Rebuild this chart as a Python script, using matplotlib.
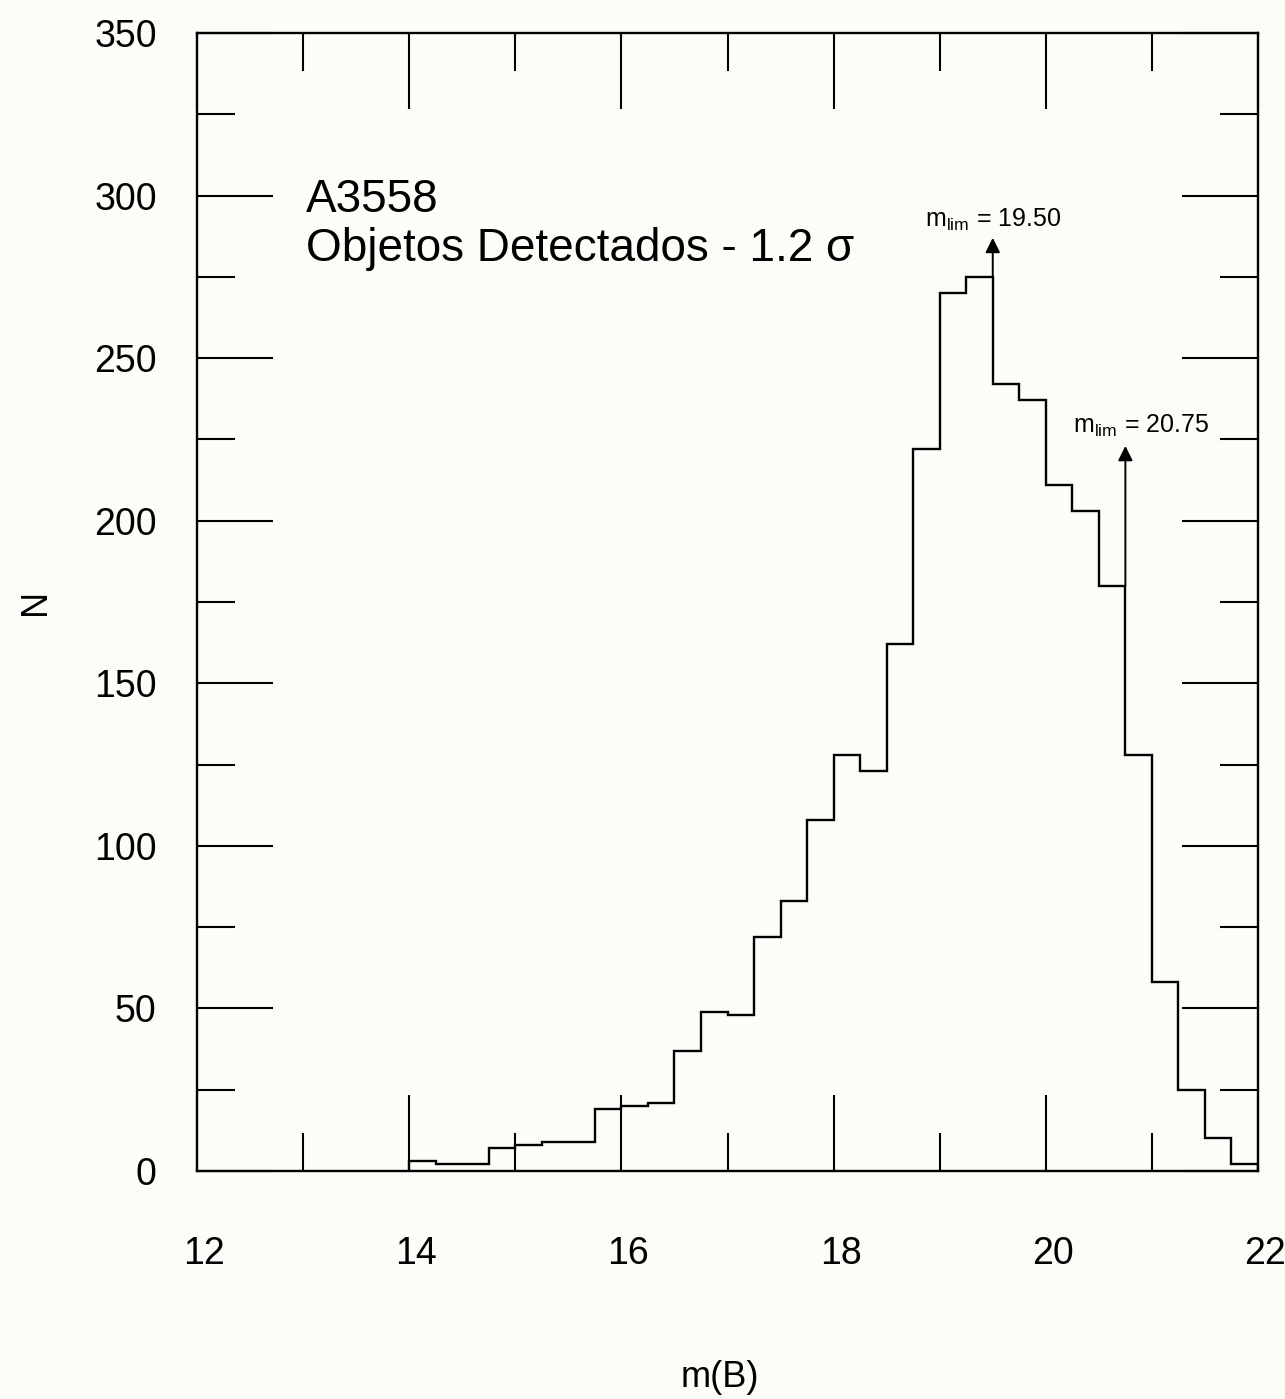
import numpy as np
import matplotlib
matplotlib.use('Agg')
import matplotlib.pyplot as plt
from matplotlib.ticker import MultipleLocator
from matplotlib.transforms import ScaledTranslation

# magnitude histogram, bins of 0.25 mag starting at 14.0
bin_start = 14.0
bin_width = 0.25
counts = [3, 2, 2, 7, 8, 9, 9, 19, 20, 21,
          37, 49, 48, 72, 83, 108, 128, 123, 162, 222,
          270, 275, 242, 237, 211, 203, 180, 128, 58, 25,
          10, 2]

# limiting magnitudes marked with arrows
m_lim = [19.50, 20.75]
arrow_base = [275, 180]
arrow_tip = [287, 223]

cluster = "A3558"
subtitle = "Objetos Detectados - 1.2 σ"

plt.rcParams['font.family'] = ['Liberation Sans', 'DejaVu Sans']
plt.rcParams['mathtext.fontset'] = 'custom'
plt.rcParams['mathtext.rm'] = 'Liberation Sans'
plt.rcParams['mathtext.it'] = 'Liberation Sans'


def plot_hist():
    fig = plt.figure(figsize=(12.85, 13.99), dpi=100, facecolor='#fcfcf9')
    ax = fig.add_axes([0.1533, 0.163, 0.8257, 0.8134])
    ax.set_facecolor('#fcfcf9')

    edges = bin_start + bin_width * np.arange(len(counts) + 1)
    ax.stairs(counts, edges, baseline=0, color='black', lw=1.7)

    ax.set_xlim(12, 22)
    ax.set_ylim(0, 350)
    ax.xaxis.set_major_locator(MultipleLocator(2))
    ax.xaxis.set_minor_locator(MultipleLocator(1))
    ax.yaxis.set_major_locator(MultipleLocator(50))
    ax.yaxis.set_minor_locator(MultipleLocator(25))

    ax.tick_params(which='both', direction='in', top=True, right=True,
                   width=1.5, color='black')
    ax.tick_params(which='major', length=54.5, labelsize=27)
    ax.tick_params(axis='x', which='major', pad=47)
    ax.tick_params(axis='y', which='major', pad=29)
    ax.tick_params(which='minor', length=27.5)
    for s in ax.spines.values():
        s.set_linewidth(1.7)

    # x labels sit a little right of their ticks
    shift = ScaledTranslation(5 / 72, 0, fig.dpi_scale_trans)
    for lab in ax.get_xticklabels():
        lab.set_transform(lab.get_transform() + shift)

    ax.set_xlabel("m(B)", fontsize=26)
    ax.set_ylabel("N", fontsize=26)
    ax.xaxis.set_label_coords(0.493, -0.166)
    ax.yaxis.set_label_coords(-0.136, 0.5)

    ax.text(13.03, 295, cluster, fontsize=33, va='baseline')
    ax.text(13.03, 280, subtitle, fontsize=33, va='baseline')

    # arrows and labels for the limiting magnitudes
    label_x = [19.50, 20.90]
    label_y = [290.5, 227]
    for i in range(len(m_lim)):
        ax.annotate('', xy=(m_lim[i], arrow_tip[i]), xytext=(m_lim[i], arrow_base[i]),
                    arrowprops=dict(arrowstyle='-|>', color='black', lw=1.4,
                                    mutation_scale=22, shrinkA=0, shrinkB=0))
        ax.text(label_x[i], label_y[i], f"m$_{{\\mathrm{{lim}}}}$ = {m_lim[i]:.2f}",
                fontsize=18, ha='center', va='baseline')

    return fig


def main():
    fig = plot_hist()
    fig.savefig('out.png', dpi=100, facecolor=fig.get_facecolor())


if __name__ == '__main__':
    main()
